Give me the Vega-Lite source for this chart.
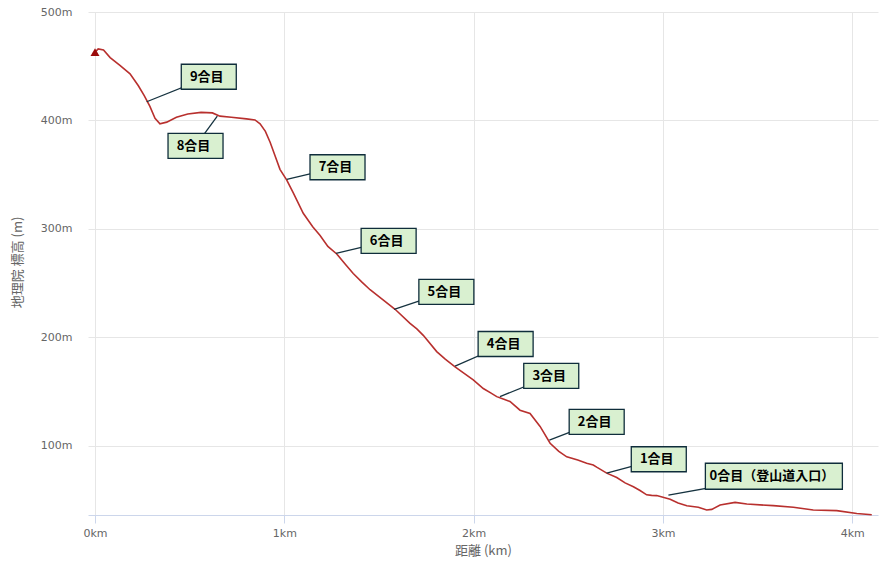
{
  "$schema": "https://vega.github.io/schema/vega-lite/v6.json",
  "width": 790,
  "height": 503,
  "autosize": "none",
  "padding": {"left": 88, "top": 12, "right": 16, "bottom": 66},
  "background": "white",
  "config": {
    "view": {"stroke": null},
    "axis": {
      "labelFont": "DejaVu Sans",
      "labelFontSize": 11,
      "labelColor": "#666666",
      "titleFont": "Noto Sans CJK JP",
      "titleFontSize": 13,
      "titleFontWeight": "normal",
      "titleColor": "#666666",
      "gridColor": "#e6e6e6",
      "gridWidth": 1
    }
  },
  "datasets": {
    "profile": [
      {"km": 0.000, "elev": 463},
      {"km": 0.017, "elev": 466},
      {"km": 0.045, "elev": 465},
      {"km": 0.080, "elev": 458},
      {"km": 0.130, "elev": 451},
      {"km": 0.185, "elev": 443},
      {"km": 0.229, "elev": 432},
      {"km": 0.260, "elev": 423},
      {"km": 0.290, "elev": 413},
      {"km": 0.317, "elev": 402},
      {"km": 0.343, "elev": 397},
      {"km": 0.379, "elev": 398.5},
      {"km": 0.430, "elev": 403},
      {"km": 0.490, "elev": 406},
      {"km": 0.560, "elev": 407.5},
      {"km": 0.620, "elev": 407},
      {"km": 0.660, "elev": 404},
      {"km": 0.720, "elev": 403},
      {"km": 0.800, "elev": 401.5},
      {"km": 0.845, "elev": 400.5},
      {"km": 0.872, "elev": 397},
      {"km": 0.900, "elev": 390},
      {"km": 0.925, "elev": 380},
      {"km": 0.950, "elev": 368},
      {"km": 0.977, "elev": 355},
      {"km": 1.013, "elev": 345},
      {"km": 1.048, "elev": 333},
      {"km": 1.100, "elev": 314.5},
      {"km": 1.150, "elev": 302},
      {"km": 1.189, "elev": 294},
      {"km": 1.230, "elev": 284},
      {"km": 1.277, "elev": 277},
      {"km": 1.320, "elev": 268},
      {"km": 1.364, "elev": 259},
      {"km": 1.410, "elev": 251},
      {"km": 1.453, "elev": 244},
      {"km": 1.520, "elev": 235},
      {"km": 1.585, "elev": 226},
      {"km": 1.664, "elev": 213},
      {"km": 1.700, "elev": 208},
      {"km": 1.734, "elev": 202},
      {"km": 1.805, "elev": 187},
      {"km": 1.850, "elev": 180},
      {"km": 1.902, "elev": 173},
      {"km": 1.950, "elev": 167},
      {"km": 1.998, "elev": 161},
      {"km": 2.051, "elev": 153},
      {"km": 2.090, "elev": 149},
      {"km": 2.122, "elev": 145.5},
      {"km": 2.160, "elev": 143},
      {"km": 2.192, "elev": 141},
      {"km": 2.245, "elev": 133},
      {"km": 2.298, "elev": 130},
      {"km": 2.351, "elev": 118},
      {"km": 2.404, "elev": 102.5},
      {"km": 2.450, "elev": 95},
      {"km": 2.492, "elev": 90},
      {"km": 2.550, "elev": 87},
      {"km": 2.597, "elev": 84},
      {"km": 2.632, "elev": 82.5},
      {"km": 2.650, "elev": 80.5},
      {"km": 2.703, "elev": 75},
      {"km": 2.756, "elev": 71},
      {"km": 2.800, "elev": 66},
      {"km": 2.844, "elev": 62.5},
      {"km": 2.879, "elev": 59},
      {"km": 2.914, "elev": 55},
      {"km": 2.940, "elev": 54.5},
      {"km": 2.967, "elev": 54.3},
      {"km": 3.038, "elev": 50.9},
      {"km": 3.080, "elev": 47.5},
      {"km": 3.126, "elev": 45},
      {"km": 3.187, "elev": 43.5},
      {"km": 3.231, "elev": 41},
      {"km": 3.258, "elev": 41.6},
      {"km": 3.302, "elev": 45.6},
      {"km": 3.381, "elev": 48},
      {"km": 3.443, "elev": 46.5},
      {"km": 3.583, "elev": 45},
      {"km": 3.689, "elev": 43.5},
      {"km": 3.794, "elev": 41},
      {"km": 3.918, "elev": 40.4},
      {"km": 4.024, "elev": 37.8},
      {"km": 4.103, "elev": 36.7}
    ],
    "stations": [
      {"label": "9合目", "km": 0.273, "elev": 417.3, "lx": 0.601, "ly": 440.3},
      {"label": "8合目", "km": 0.646, "elev": 404.1, "lx": 0.531, "ly": 376.7},
      {"label": "7合目", "km": 1.013, "elev": 345.8, "lx": 1.281, "ly": 356.9},
      {"label": "6合目", "km": 1.273, "elev": 277.6, "lx": 1.551, "ly": 289.1},
      {"label": "5合目", "km": 1.580, "elev": 226.0, "lx": 1.856, "ly": 242.1},
      {"label": "4合目", "km": 1.902, "elev": 173.7, "lx": 2.169, "ly": 194.0},
      {"label": "3合目", "km": 2.139, "elev": 145.5, "lx": 2.410, "ly": 164.7},
      {"label": "2合目", "km": 2.400, "elev": 105.5, "lx": 2.650, "ly": 122.3},
      {"label": "1合目", "km": 2.703, "elev": 74.9, "lx": 2.978, "ly": 87.8},
      {"label": "0合目（登山道入口）", "km": 3.029, "elev": 54.8, "lx": 3.586, "ly": 72.1}
    ]
  },
  "layer": [
    {
      "data": {"name": "profile"},
      "mark": {"type": "line", "color": "#b8302e", "strokeWidth": 1.6},
      "encoding": {
        "x": {
          "field": "km", "type": "quantitative",
          "scale": {"domain": [-0.037, 4.136], "nice": false, "zero": false},
          "axis": {
            "values": [0, 1, 2, 3, 4],
            "labelExpr": "datum.value + 'km'",
            "title": "距離 (km)",
            "domainColor": "#ccd6eb",
            "tickColor": "#ccd6eb",
            "tickSize": 8,
            "labelPadding": 4,
            "titlePadding": 6,
            "grid": true
          }
        },
        "y": {
          "field": "elev", "type": "quantitative",
          "scale": {"domain": [36.4, 500], "nice": false, "zero": false},
          "axis": {
            "values": [100, 200, 300, 400, 500],
            "labelExpr": "datum.value + 'm'",
            "title": "地理院 標高 (m)",
            "domain": false,
            "ticks": false,
            "labelPadding": 16,
            "titleX": -71,
            "titleY": 250,
            "titleAngle": -90,
            "titleAlign": "center",
            "titleBaseline": "middle",
            "grid": true
          }
        }
      }
    },
    {
      "data": {"name": "profile"},
      "transform": [{"filter": "datum.km == 0"}],
      "mark": {"type": "point", "shape": "triangle-up", "filled": true, "color": "#9a0a0a", "size": 80, "opacity": 1},
      "encoding": {
        "x": {"field": "km", "type": "quantitative", "scale": {"domain": [-0.037, 4.136], "nice": false, "zero": false}},
        "y": {"field": "elev", "type": "quantitative", "scale": {"domain": [36.4, 500], "nice": false, "zero": false}}
      }
    },
    {
      "data": {"name": "stations"},
      "mark": {"type": "rule", "color": "#15323f", "strokeWidth": 1.3},
      "encoding": {
        "x": {"field": "km", "type": "quantitative", "scale": {"domain": [-0.037, 4.136], "nice": false, "zero": false}},
        "y": {"field": "elev", "type": "quantitative", "scale": {"domain": [36.4, 500], "nice": false, "zero": false}},
        "x2": {"field": "lx"},
        "y2": {"field": "ly"}
      }
    },
    {
      "data": {"name": "stations"},
      "transform": [{"filter": "length(datum.label) <= 3"}],
      "mark": {"type": "rect", "width": 55, "height": 25, "fill": "#d9f0d0", "stroke": "#0f2d3b", "strokeWidth": 1.3},
      "encoding": {
        "x": {"field": "lx", "type": "quantitative", "scale": {"domain": [-0.037, 4.136], "nice": false, "zero": false}},
        "y": {"field": "ly", "type": "quantitative", "scale": {"domain": [36.4, 500], "nice": false, "zero": false}}
      }
    },
    {
      "data": {"name": "stations"},
      "transform": [{"filter": "length(datum.label) > 3"}],
      "mark": {"type": "rect", "width": 137, "height": 26, "fill": "#d9f0d0", "stroke": "#0f2d3b", "strokeWidth": 1.3},
      "encoding": {
        "x": {"field": "lx", "type": "quantitative", "scale": {"domain": [-0.037, 4.136], "nice": false, "zero": false}},
        "y": {"field": "ly", "type": "quantitative", "scale": {"domain": [36.4, 500], "nice": false, "zero": false}}
      }
    },
    {
      "data": {"name": "stations"},
      "mark": {"type": "text", "font": "Noto Sans CJK JP", "fontSize": 13, "fontWeight": "bold", "color": "#000000", "align": "center", "baseline": "middle", "dx": -2},
      "encoding": {
        "x": {"field": "lx", "type": "quantitative", "scale": {"domain": [-0.037, 4.136], "nice": false, "zero": false}},
        "y": {"field": "ly", "type": "quantitative", "scale": {"domain": [36.4, 500], "nice": false, "zero": false}},
        "text": {"field": "label"}
      }
    }
  ]
}
